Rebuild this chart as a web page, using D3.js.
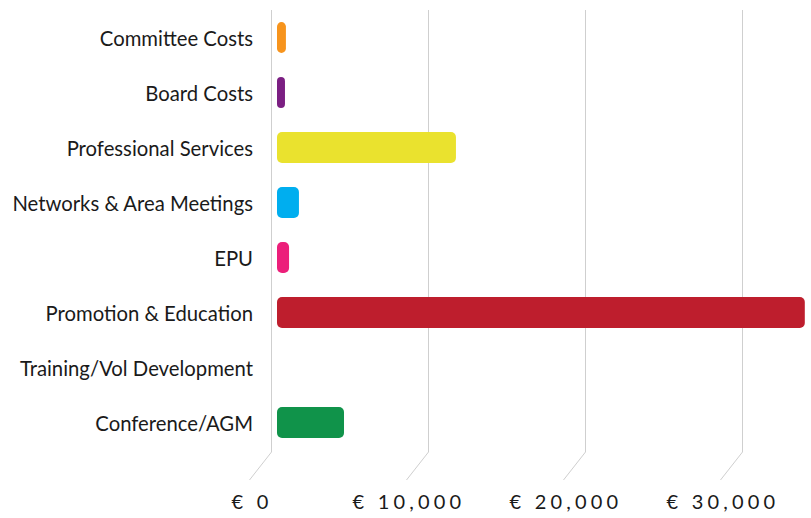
<!DOCTYPE html>
<html>
<head>
<meta charset="utf-8">
<script src="https://cdn.jsdelivr.net/npm/d3@7"></script>
<style>
  body { margin: 0; background: #fff; }
  svg { display: block; font-family: "Lato", "Open Sans", sans-serif; }
  .cat { font-size: 20.3px; fill: #1a1a1a; }
  .tick-label { font-size: 20px; fill: #1a1a1a; letter-spacing: 4.2px; }
</style>
</head>
<body>
<svg width="811" height="518"></svg>
<script>
// budget lines, top to bottom
var categories = [
  "Committee Costs",
  "Board Costs",
  "Professional Services",
  "Networks & Area Meetings",
  "EPU",
  "Promotion & Education",
  "Training/Vol Development",
  "Conference/AGM"
];
var amounts = [950, 890, 11780, 1780, 1150, 34000, 0, 4650];
var barColors = ["#f7941d", "#7b1f82", "#eae22e", "#00aeef", "#ec1f7a", "#be1e2d", "#999999", "#10934a"];
var tickValues = [0, 10000, 20000, 30000];

var svg = d3.select("svg");

var x = d3.scaleLinear().domain([0, 10000]).range([271, 428]);
var y = d3.scaleBand().domain(categories).range([10, 450]).paddingInner(0.44).paddingOuter(0.22);

// gridlines with the little slanted foot at the bottom
var gridBottom = 452, footDx = -22, footDy = 28;
svg.append("g").attr("class", "grid")
  .selectAll("path")
  .data(tickValues)
  .enter().append("path")
    .attr("d", function(d) {
      var gx = Math.round(x(d)) + 0.5;
      return "M" + gx + ",10 V" + gridBottom + " l" + footDx + "," + footDy;
    })
    .attr("fill", "none")
    .attr("stroke", "#cfcfcf")
    .attr("stroke-width", 1);

// bars
var pad = 6;
var data = categories.map(function(c, i) { return {cat: c, v: amounts[i], color: barColors[i]}; });
svg.append("g").attr("class", "bars")
  .selectAll("rect")
  .data(data.filter(function(d) { return d.v > 0; }))
  .enter().append("rect")
    .attr("x", x(0) + pad)
    .attr("y", function(d) { return y(d.cat); })
    .attr("width", function(d) { return Math.max(0, x(d.v) - x(0) - pad); })
    .attr("height", y.bandwidth())
    .attr("rx", function(d) { return Math.min(5, (x(d.v) - x(0) - pad) / 2); })
    .attr("fill", function(d) { return d.color; });

// category labels
svg.append("g")
  .selectAll("text")
  .data(categories)
  .enter().append("text")
    .attr("class", "cat")
    .attr("x", 253)
    .attr("y", function(d) { return y(d) + y.bandwidth() / 2 + 1.5; })
    .attr("dy", "0.35em")
    .attr("text-anchor", "end")
    .text(function(d) { return d; });

// x tick labels under the slanted feet
var fmt = d3.format(",");
svg.append("g")
  .selectAll("text")
  .data(tickValues)
  .enter().append("text")
    .attr("class", "tick-label")
    .attr("x", function(d) { return x(d) + footDx + 3; })
    .attr("y", 509)
    .attr("text-anchor", "middle")
    .text(function(d) { return "€ " + fmt(d); });
</script>
</body>
</html>
